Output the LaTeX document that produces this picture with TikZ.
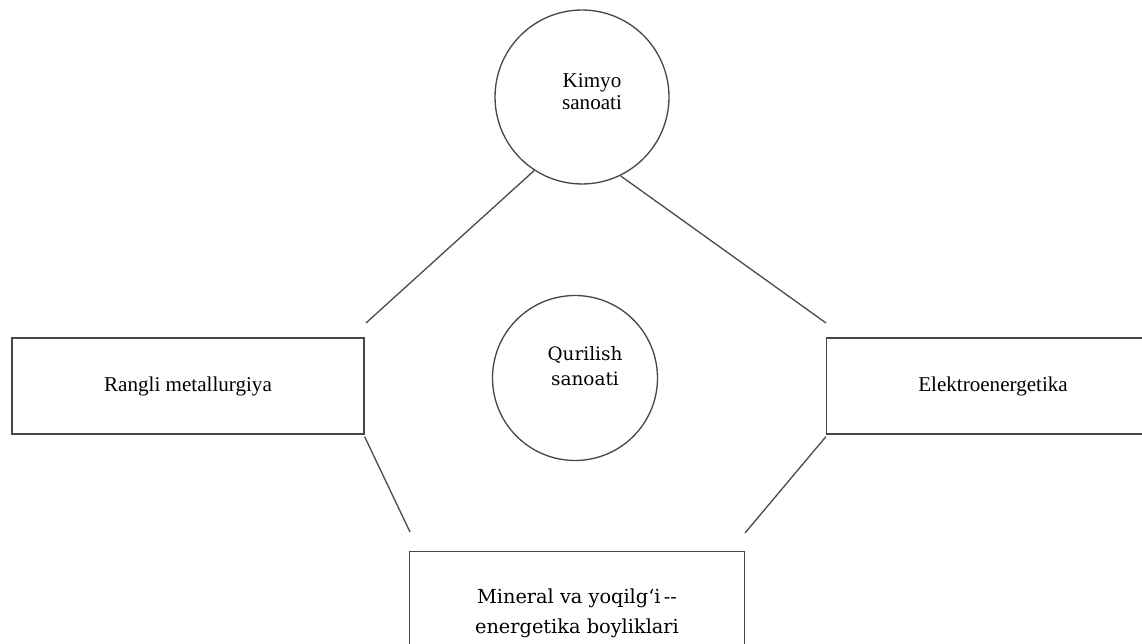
\documentclass[tikz,border=0pt]{standalone}
\usepackage{fontspec}
\setmainfont{Liberation Serif}
\newfontfamily\bookfont{DejaVu Serif}
\begin{document}
\begin{tikzpicture}[x=0.02cm,y=-0.02cm,
  ink/.style={draw=black!72, line width=0.75pt},
  boxnode/.style={ink, rectangle, inner sep=0pt, align=center, font=\fontsize{12}{14}\selectfont},
  ringnode/.style={ink, circle, inner sep=0pt, align=center},
  link/.style={draw=black!70, line width=0.75pt}]
\useasboundingbox[fill=white] (0,0) rectangle (1142,644);
\clip (0,0) rectangle (1142,644);
% circles
\node[ringnode, minimum size=3.48cm] (kimyo) at (582,97) {};
\node[align=center, inner sep=0pt, font=\fontsize{12}{12.5}\selectfont] at (kimyo.center) [xshift=0.2cm, yshift=0.1cm] {Kimyo\\sanoati};
\node[ringnode, minimum size=3.3cm] (qurilish) at (575,378) {};
\node[align=center, inner sep=0pt, font=\bookfont\fontsize{10.5}{14}\selectfont] at (qurilish.center) [xshift=0.2cm, yshift=0.24cm] {Qurilish\\sanoati};
% boxes
\node[boxnode, minimum width=7.04cm, minimum height=1.92cm] (rangli) at (188,386) {Rangli metallurgiya};
\node[boxnode, minimum width=6.9cm, minimum height=1.92cm] (elektro) at (999,386) {\hspace*{-0.24cm}Elektroenergetika};
\node[boxnode, minimum width=6.7cm, minimum height=2.4cm, anchor=north] (mineral) at (577,551) {};
\node[align=center, inner sep=0pt, font=\bookfont\fontsize{11}{17}\selectfont] at (577,613) {Mineral va yoqilg{\char"2018}i\,--\\energetika boyliklari};
% free ends of connectors
\coordinate (ra) at (366,323);
\coordinate (ea) at (826,323);
\coordinate (rb) at (410,532);
\coordinate (eb) at (745,533);
% connectors
\draw[link] (ra) -- (kimyo.237);
\draw[link] (ea) -- (kimyo.296);
\draw[link] ([yshift=-0.04cm]rangli.south east) -- (rb);
\draw[link] ([yshift=-0.04cm]elektro.south west) -- (eb);
\end{tikzpicture}
\end{document}
